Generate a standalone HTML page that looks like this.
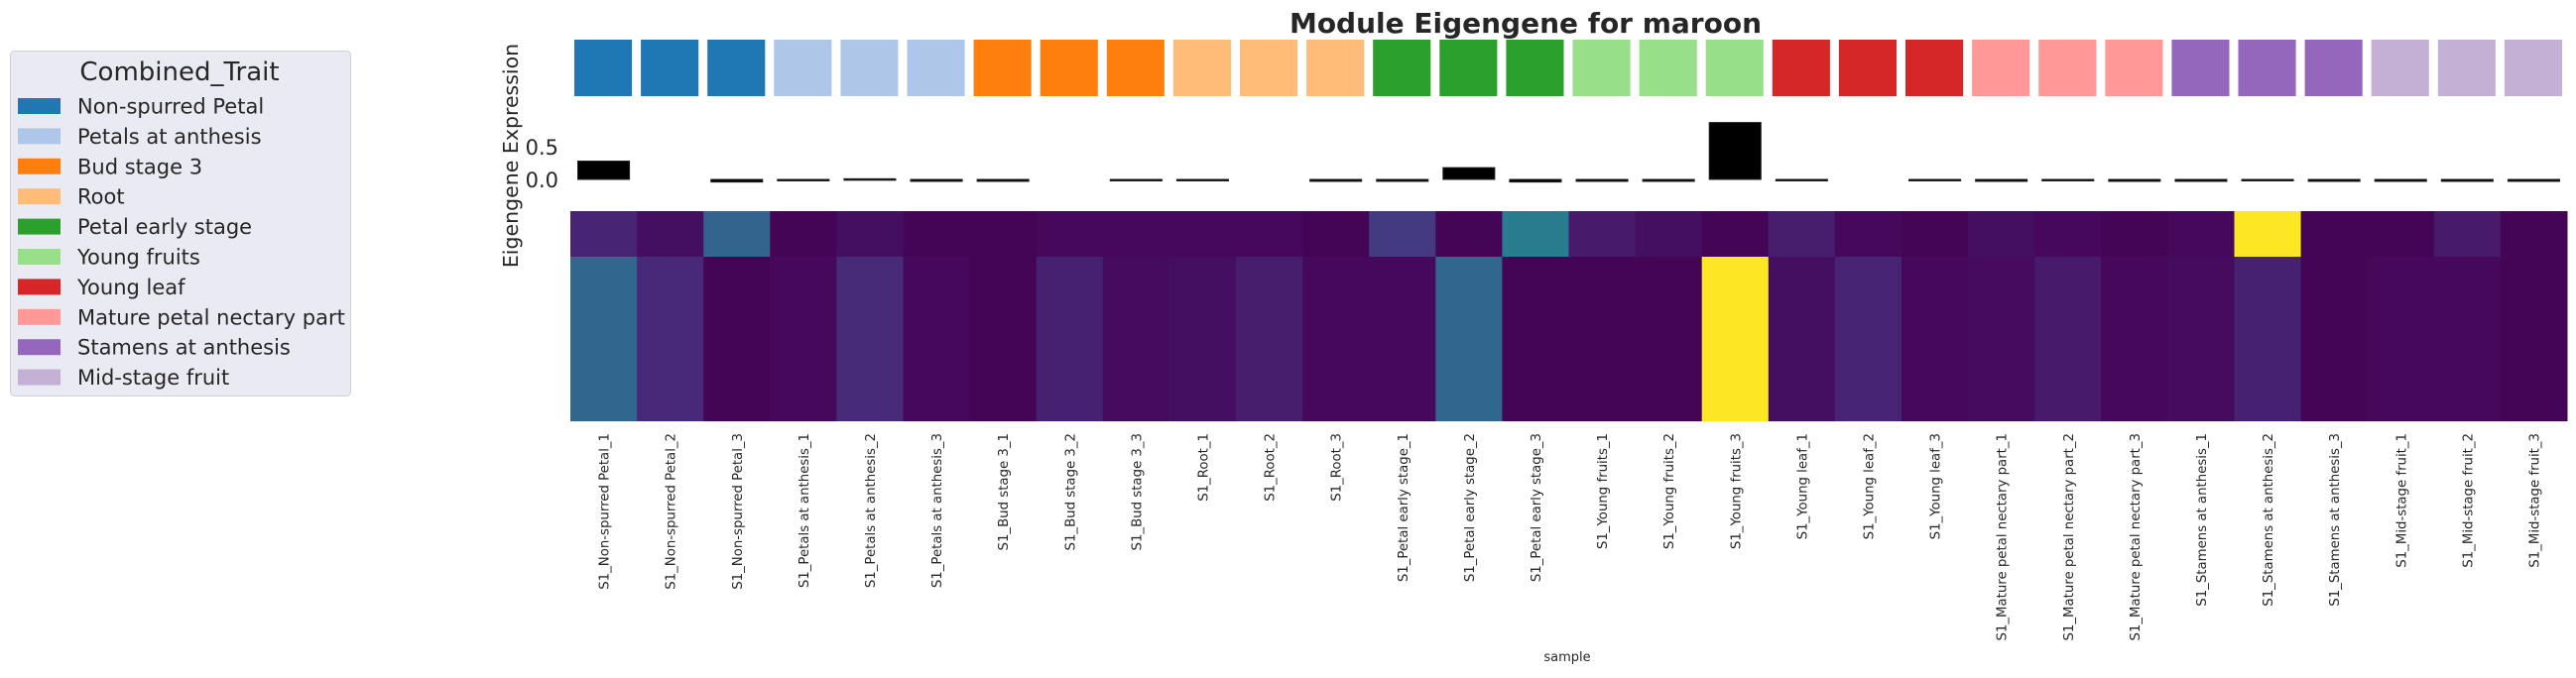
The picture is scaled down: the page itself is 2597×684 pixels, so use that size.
<!DOCTYPE html>
<html><head><meta charset="utf-8">
<style>
html,body{margin:0;padding:0;background:#fff;}
svg{display:block;font-family:"DejaVu Sans","Liberation Sans",sans-serif;}
</style></head>
<body>
<svg id="chart" width="2597" height="684" viewBox="0 0 2597 684">
  <text x="1538" y="33" text-anchor="middle" font-size="28" font-weight="bold" fill="#262626">Module Eigengene for maroon</text>
  <text transform="translate(522,157) rotate(-90)" text-anchor="middle" font-size="20.5" fill="#262626">Eigengene Expression</text>
  <text x="1580" y="667" text-anchor="middle" font-size="13" fill="#262626">sample</text>
  <g id="legend">
    <rect x="10.5" y="51.5" width="343" height="348" rx="4" fill="#eaeaf2" stroke="#d0d0d8"/>
    <text x="181" y="81" text-anchor="middle" font-size="26" fill="#262626">Combined_Trait</text>
  </g>
  <g id="tiles"></g>
  <g id="bars"></g>
  <g id="heat"></g>
  <g id="xlabels"></g>
  <g id="yticks"></g>
</svg>
<script>
const groups = ["Non-spurred Petal","Petals at anthesis","Bud stage 3","Root","Petal early stage","Young fruits","Young leaf","Mature petal nectary part","Stamens at anthesis","Mid-stage fruit"];
const groupColors = ["#1f77b4","#aec7e8","#ff7f0e","#ffbb78","#2ca02c","#98df8a","#d62728","#ff9896","#9467bd","#c5b0d5"];
const samples = [];
groups.forEach(g => { for (let r = 1; r <= 3; r++) samples.push("S1_" + g + "_" + r); });
const eigengene = [0.28,0,-0.04,-0.02,0.01,-0.03,-0.03,0,-0.02,-0.02,0,-0.03,-0.03,0.18,-0.04,-0.03,-0.03,0.87,-0.01,0,-0.02,-0.03,-0.01,-0.03,-0.03,-0.01,-0.03,-0.03,-0.03,-0.03];
const heatTop = [0.1,0.04,0.32,0.01,0.04,0.01,0.01,0.02,0.02,0.02,0.02,0.01,0.17,0.01,0.42,0.07,0.04,0.01,0.08,0.02,0.01,0.04,0.02,0.01,0.02,1.0,0.01,0.01,0.07,0.01];
const heatBottom = [0.33,0.11,0.01,0.02,0.12,0.02,0.01,0.09,0.03,0.04,0.08,0.02,0.02,0.33,0.01,0.01,0.01,1.0,0.04,0.1,0.02,0.03,0.07,0.02,0.03,0.09,0.01,0.02,0.02,0.01];
const yTicks = [0.0, 0.5];

const NS = "http://www.w3.org/2000/svg";
function mk(tag, attrs, parent){ const e=document.createElementNS(NS,tag); for(const k in attrs) e.setAttribute(k,attrs[k]); parent.appendChild(e); return e; }
const X0 = 575, X1 = 2588, n = samples.length, cw = (X1 - X0) / n;
const xPos = i => X0 + i * cw;
const ZERO = 181, PXU = 66;
const yScale = v => ZERO - v * PXU;
const vir = [[68,1,84],[72,40,120],[62,74,137],[49,104,142],[38,130,142],[31,158,137],[53,183,121],[109,205,89],[180,222,44],[253,231,37]];
function viridis(t){ t=Math.max(0,Math.min(1,t)); const p=t*(vir.length-1); const i=Math.min(vir.length-2,Math.floor(p)); const f=p-i; const c=vir[i].map((a,k)=>Math.round(a+(vir[i+1][k]-a)*f)); return "rgb("+c.join(",")+")"; }

const legend = document.getElementById("legend");
groups.forEach((g, i) => {
  const y = 107 + i * 30.4;
  const r = mk("rect", {x:18, y:y-8, width:43, height:16, fill:groupColors[i]}, legend);
  
  
  const t = mk("text", {x:78, y:y+7.5, "font-size":21, fill:"#262626"}, legend);
  t.textContent = g;
  
  
});

const tiles = document.getElementById("tiles"), bars = document.getElementById("bars"), heat = document.getElementById("heat"), xl = document.getElementById("xlabels");
samples.forEach((s, i) => {
  const gi = Math.floor(i / 3);
  const tile = mk("rect", {x:xPos(i)+4, y:40, width:cw-9, height:57, fill:groupColors[gi]}, tiles);
  
  
  const v = eigengene[i];
  if (Math.abs(v) > 0.001) {
    const y1 = yScale(Math.max(v,0)), y2 = yScale(Math.min(v,0));
    const b = mk("rect", {x:xPos(i)+7.5, y:y1, width:cw-15, height:Math.max(1.5,y2-y1), fill:"#000", stroke:"#222", "stroke-width":1}, bars);
    
    
  }
  const h1 = mk("rect", {x:xPos(i), y:213, width:cw+0.5, height:46, fill:viridis(heatTop[i])}, heat);
  
  
  const h2 = mk("rect", {x:xPos(i), y:259, width:cw+0.5, height:166, fill:viridis(heatBottom[i])}, heat);
  
  
  const cx = xPos(i) + cw/2 + 5;
  const t = mk("text", {transform:"translate("+cx+",437) rotate(-90)", "text-anchor":"end", "font-size":13.3, fill:"#262626"}, xl);
  t.textContent = s;
  
  
});
const yt = document.getElementById("yticks");
yTicks.forEach(v => {
  const t = mk("text", {x:563, y:yScale(v)+8, "text-anchor":"end", "font-size":21, fill:"#262626"}, yt);
  t.textContent = v.toFixed(1);
  
  
});
</script>
</body></html>
